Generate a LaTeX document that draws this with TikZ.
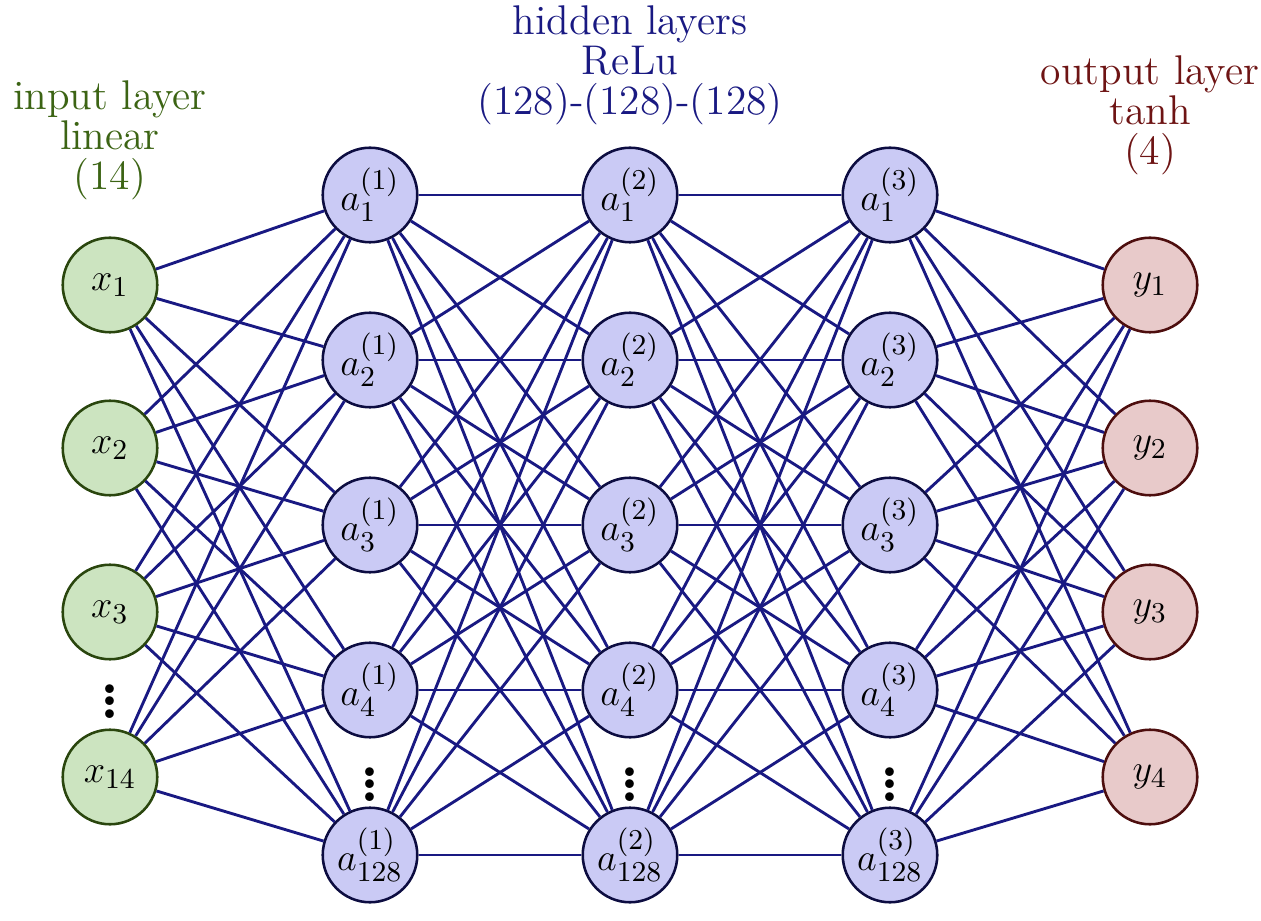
\documentclass[tikz,border=0pt]{standalone}
\usepackage{amsmath}
\usepackage{tikz}
\usetikzlibrary{positioning}
\definecolor{ingreen}{RGB}{60,100,20}
\definecolor{outred}{RGB}{110,20,20}
\definecolor{hidblue}{RGB}{25,25,130}
\definecolor{infill}{RGB}{204,228,192}
\definecolor{outfill}{RGB}{232,202,202}
\definecolor{hidfill}{RGB}{202,202,245}
\tikzstyle{circlebox}=[circle,thick,draw=black!80,minimum size=10.4mm,inner sep=0pt]
\tikzstyle{inputnode}=[circlebox, draw=ingreen!70!black, fill=infill]
\tikzstyle{hiddennode}=[circlebox, draw=hidblue!50!black, fill=hidfill]
\tikzstyle{outputnode}=[circlebox, draw=outred!70!black, fill=outfill]
\tikzstyle{textbox}=[align=center, inner sep=0pt]
\tikzstyle{edgepath}=[line width=0.9pt, draw=hidblue]
\tikzstyle{dotsnode}=[inner sep=0pt, font=\fontsize{19}{19}\selectfont\bfseries]

\begin{document}
\begin{tikzpicture}[x=0.011cm, y=-0.011cm, font=\fontsize{13}{12.5}\selectfont]
    \useasboundingbox (0,0) rectangle (1261,921);

    % input layer
    \node[inputnode] (x1) at (110,285) {$x_1$};
    \node[inputnode] (x2) at (110,448) {$x_2$};
    \node[inputnode] (x3) at (110,612) {$x_3$};
    \node[inputnode] (x4) at (110,777) {$x_{14}$};
    \node[dotsnode] (xd) at (110,692) {$\boldsymbol{\vdots}$};

    % hidden layers
    \foreach \l/\xx in {1/370, 2/630, 3/890} {
        \node[hiddennode] (h\l1) at (\xx,195) {$a_1^{(\l)}$};
        \node[hiddennode] (h\l2) at (\xx,360) {$a_2^{(\l)}$};
        \node[hiddennode] (h\l3) at (\xx,525) {$a_3^{(\l)}$};
        \node[hiddennode] (h\l4) at (\xx,690) {$a_4^{(\l)}$};
        \node[hiddennode] (h\l5) at (\xx,855) {$a_{128}^{(\l)}$};
        \node[dotsnode] (hd\l) at (\xx,775) {$\boldsymbol{\vdots}$};
    }

    % output layer
    \node[outputnode] (y1) at (1150,285) {$y_1$};
    \node[outputnode] (y2) at (1150,448) {$y_2$};
    \node[outputnode] (y3) at (1150,612) {$y_3$};
    \node[outputnode] (y4) at (1150,777) {$y_4$};

    % titles
    \node[textbox, text=ingreen] (tin) at (110,140) {input layer\\linear\\(14)};
    \node[textbox, text=hidblue] (thid) at (630,65) {hidden layers\\ReLu\\(128)-(128)-(128)};
    \node[textbox, text=outred] (tout) at (1150,115) {output layer\\tanh\\(4)};

    % connections
    \foreach \i in {1,...,4}
        \foreach \j in {1,...,5}
            \path[edgepath] (x\i) -- (h1\j);
    \foreach \i in {1,...,5}
        \foreach \j in {1,...,5} {
            \path[edgepath] (h1\i) -- (h2\j);
            \path[edgepath] (h2\i) -- (h3\j);
        }
    \foreach \i in {1,...,5}
        \foreach \j in {1,...,4}
            \path[edgepath] (h3\i) -- (y\j);
\end{tikzpicture}
\end{document}
